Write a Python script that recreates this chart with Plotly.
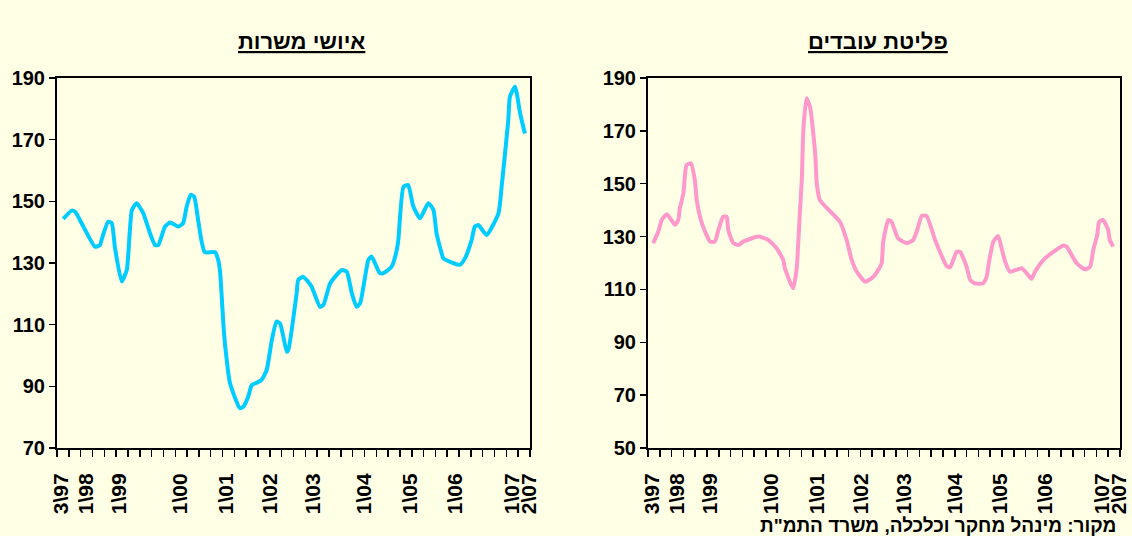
import plotly.graph_objects as go

# ---- data ----
tick_pos = [1, 7.3, 15.8, 31.2, 42.9, 54.2, 65.1, 78, 89.5, 101, 115.5, 119.8]
tick_text = ["3\\97", "1\\98", "1\\99", "1\\00", "1\\01", "1\\02", "1\\03", "1\\04", "1\\05", "1\\06", "1\\07", "2\\07"]

fill_x = [1.6, 3.7, 4.6, 6.7, 9.6, 10.9, 11.3, 13.0, 13.9, 14.7, 16.4, 17.7, 19.0, 20.2, 21.9, 23.6,
          24.9, 25.7, 27.4, 28.7, 30.8, 32.0, 32.9, 33.9, 34.8, 35.8, 36.7, 37.5, 40.1, 40.9, 41.4,
          42.2, 42.6, 43.9, 46.4, 47.3, 48.5, 49.4, 50.7, 51.9, 53.2, 54.5, 55.7, 56.6, 58.3, 58.7,
          60.8, 61.2, 62.5, 64.6, 66.7, 67.6, 69.3, 72.2, 73.5, 74.8, 76.0, 76.9, 79.0, 79.8, 81.9,
          82.8, 84.9, 86.2, 86.6, 87.9, 89.1, 90.4, 92.1, 94.2, 95.5, 96.3, 97.6, 98.0, 102.2, 103.5,
          105.2, 106.0, 106.9, 109.0, 112.0, 112.8, 114.5, 114.9, 116.2, 117.5, 118.7]
fill_y = [144.3, 147.0, 146.6, 141.8, 135.3, 135.8, 137.5, 143.4, 142.9, 135.0, 124.0, 127.7, 147.2,
          149.4, 146.1, 139.6, 135.8, 135.8, 141.8, 143.1, 141.8, 142.9, 148.3, 152.1, 151.5, 144.0,
          136.9, 133.5, 133.5, 131.0, 126.7, 110.4, 104.0, 91.0, 82.9, 83.4, 86.6, 90.4, 91.2, 92.1,
          95.3, 105.0, 111.0, 110.4, 101.2, 101.8, 120.2, 124.5, 125.5, 122.3, 115.8, 116.4, 123.4,
          127.7, 127.2, 120.2, 115.8, 116.9, 131.0, 132.1, 126.7, 126.7, 128.8, 134.2, 137.5, 154.7,
          155.3, 148.3, 144.5, 149.4, 147.2, 139.6, 133.1, 131.5, 129.4, 131.5, 137.5, 141.8, 142.3,
          139.1, 146.1, 154.7, 176.4, 183.9, 187.2, 178.5, 172.0]

sep_x = [1.3, 2.6, 3.5, 4.8, 6.9, 7.7, 8.1, 9.0, 9.8, 10.9, 11.9, 12.4, 13.7, 15.8, 17.0, 17.9, 19.1,
         20.0, 20.4, 21.7, 23.0, 24.2, 28.0, 30.6, 32.7, 34.4, 34.8, 36.9, 37.8, 38.6, 39.1, 39.5,
         40.3, 41.2, 42.5, 42.9, 43.7, 48.8, 50.5, 51.8, 53.1, 55.2, 57.3, 58.5, 59.4, 59.8, 61.1,
         61.9, 63.6, 65.8, 67.4, 68.3, 69.6, 70.8, 73.0, 74.2, 75.9, 76.8, 78.5, 79.3, 81.0, 81.9,
         83.1, 85.2, 86.1, 86.5, 87.8, 89.0, 89.9, 90.8, 92.0, 95.0, 96.3, 97.5, 98.4, 100.5, 102.6,
         105.6, 106.4, 109.0, 111.1, 112.4, 113.2, 114.2, 114.7, 115.7, 117.0, 117.4, 118.3]
sep_y = [127.5, 131.8, 136.3, 138.4, 134.4, 136.3, 140.7, 146.4, 157.1, 157.7, 151.4, 143.8, 135.0,
         128.1, 128.1, 132.5, 137.5, 137.5, 132.5, 127.5, 126.8, 128.1, 130.0, 128.7, 125.6, 121.1,
         118.0, 110.4, 118.0, 138.8, 151.4, 170.3, 182.3, 179.1, 161.5, 150.2, 143.8, 135.6, 128.7,
         121.1, 116.7, 112.9, 114.8, 117.3, 119.9, 128.1, 136.3, 135.6, 129.3, 127.5, 128.7, 131.8,
         137.8, 137.8, 128.7, 124.3, 118.9, 118.4, 124.3, 124.3, 118.6, 113.6, 112.3, 112.3, 114.8,
         118.6, 128.1, 130.2, 125.6, 120.5, 116.7, 118.0, 116.1, 114.0, 116.7, 121.1, 123.7, 126.6,
         126.2, 119.9, 117.6, 118.6, 124.9, 130.6, 135.6, 136.3, 132.5, 128.7, 126.2]

left_title = "איושי משרות"
right_title = "פליטת עובדים"
source_text = "מקור: מינהל מחקר וכלכלה, משרד התמ\"ת"

BG = "#FFFFE5"
FONT = "Liberation Sans, Arial, sans-serif"

fig = go.Figure()
fig.add_trace(go.Scatter(x=fill_x, y=fill_y, mode="lines", xaxis="x", yaxis="y",
                         line=dict(color="#00CCFF", width=4, shape="spline", smoothing=0.5),
                         showlegend=False, hoverinfo="skip"))
fig.add_trace(go.Scatter(x=sep_x, y=sep_y, mode="lines", xaxis="x2", yaxis="y2",
                         line=dict(color="#FF99CC", width=4, shape="spline", smoothing=0.5),
                         showlegend=False, hoverinfo="skip"))

H = 536
W = 1132
ydom = [1 - 448 / H, 1 - 78 / H]

def xaxis_cfg(domain):
    return dict(domain=domain, range=[0, 120], tickmode="array", tickvals=tick_pos, ticktext=tick_text,
                tickangle=-90, ticks="", showgrid=False, zeroline=False, automargin=False,
                showline=True, linecolor="black", linewidth=2, mirror=True,
                ticklabelstandoff=15,
                tickfont=dict(family=FONT, size=21, color="black", weight="bold"),
                minor=dict(ticks="outside", tickmode="linear", tick0=0, dtick=3, ticklen=7,
                           tickcolor="black", tickwidth=1.5, showgrid=False))

def yaxis_cfg(domain, anchor, rng):
    return dict(domain=domain, anchor=anchor, range=rng, dtick=20, tick0=rng[0], automargin=False,
                ticks="outside", ticklen=6, tickwidth=1.5, tickcolor="black",
                showgrid=False, zeroline=False, showline=True, linecolor="black", linewidth=2,
                mirror=True, tickfont=dict(family=FONT, size=20, color="black", weight="bold"))

fig.update_layout(
    width=W, height=H, autosize=False,
    paper_bgcolor=BG, plot_bgcolor=BG,
    margin=dict(l=0, r=0, t=0, b=0, pad=0, autoexpand=False),
    xaxis=dict(**xaxis_cfg([57 / W, 530 / W]), anchor="y"),
    yaxis=yaxis_cfg(ydom, "x", [70, 190]),
    xaxis2=dict(**xaxis_cfg([648 / W, 1120 / W]), anchor="y2"),
    yaxis2=yaxis_cfg(ydom, "x2", [50, 190]),
    annotations=[
        dict(text="<u>" + left_title + "</u>", x=62, y=1 - 27 / H, xref="x", yref="paper",
             showarrow=False, font=dict(family=FONT, size=22, color="black", weight="bold")),
        dict(text="<u>" + right_title + "</u>", x=58.5, y=1 - 27 / H, xref="x2", yref="paper",
             showarrow=False, font=dict(family=FONT, size=22, color="black", weight="bold")),
        dict(text=source_text, x=1118 / W, y=1 - 525 / H, xref="paper", yref="paper",
             xanchor="right", yanchor="middle",
             showarrow=False, font=dict(family=FONT, size=19, color="black", weight="bold")),
    ],
)

fig.write_html("out.html", config={"displayModeBar": False, "staticPlot": True},
               post_script="document.body.style.margin='0px';document.body.style.overflow='hidden';")
